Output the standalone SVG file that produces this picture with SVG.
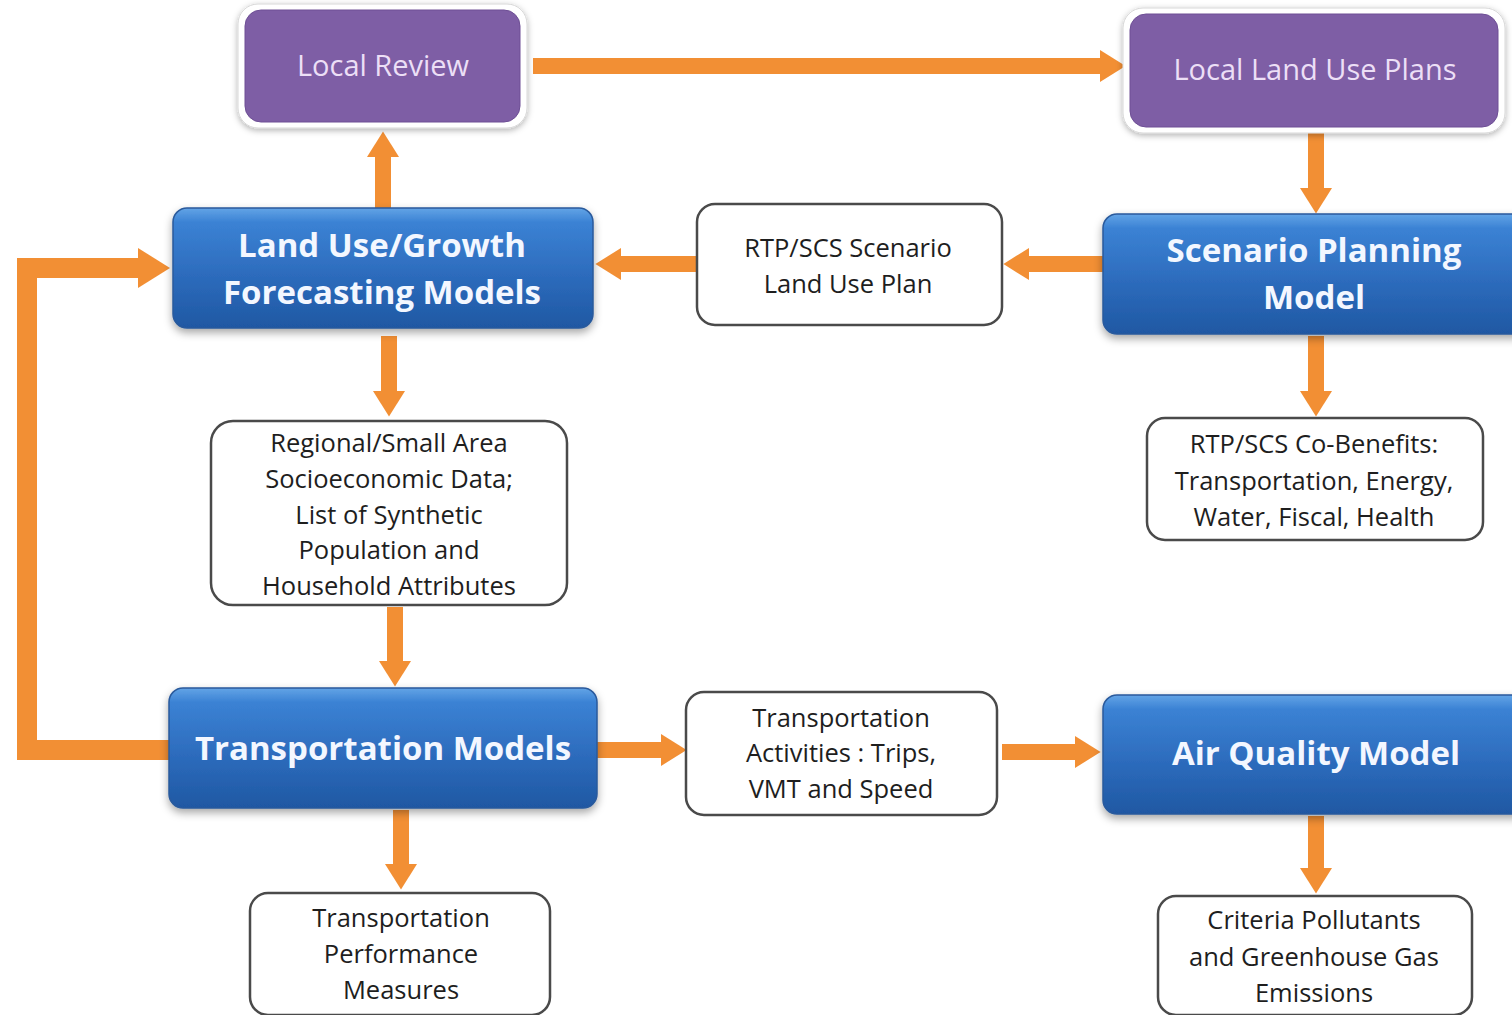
<svg xmlns="http://www.w3.org/2000/svg" width="1512" height="1015" viewBox="0 0 1512 1015">
<defs>
<linearGradient id="blue" x1="0" y1="0" x2="0" y2="1">
<stop offset="0" stop-color="#63a4e6"/>
<stop offset="0.12" stop-color="#3b82d4"/>
<stop offset="0.55" stop-color="#2d6cbd"/>
<stop offset="1" stop-color="#1f58a3"/>
</linearGradient>
<filter id="sh" x="-10%" y="-10%" width="120%" height="130%">
<feDropShadow dx="0" dy="4" stdDeviation="4" flood-color="#000" flood-opacity="0.35"/>
</filter>
<filter id="sh2" x="-10%" y="-10%" width="120%" height="130%">
<feDropShadow dx="0" dy="2" stdDeviation="3" flood-color="#000" flood-opacity="0.3"/>
</filter>
<marker id="ah" viewBox="0 0 1.6 2" markerWidth="1.6" markerHeight="2" refX="0" refY="1" markerUnits="strokeWidth" orient="auto">
<path d="M0,0 L1.6,1 L0,2 z" fill="#f28f34"/>
</marker>
<style>
.blue rect{fill:url(#blue);stroke:#2a5a9c;stroke-width:1.5;filter:url(#sh)}
.blue text{font-family:"Open Sans","Noto Sans",sans-serif;font-weight:bold;font-size:33px;fill:#f3f7ff;text-anchor:middle}
.purple .outer{fill:#fff;stroke:#d8d8d8;stroke-width:1;filter:url(#sh2)}
.purple .inner{fill:#7e5ea5;stroke:#6e4f95;stroke-width:1}
.purple text{font-family:"Open Sans","Noto Sans",sans-serif;font-size:29px;fill:#ecdff6;text-anchor:middle}
.white rect{fill:#fff;stroke:#4a4a4a;stroke-width:2.5}
.white text{font-family:"Open Sans","Noto Sans",sans-serif;font-size:25.5px;fill:#1e1e1e;text-anchor:middle}
.conn path{fill:none;stroke:#f28f34;stroke-width:16;marker-end:url(#ah)}
.conn .loop{stroke-width:20}
</style>
</defs>
<rect width="1512" height="1015" fill="#fff"/>
<g id="connectors" class="conn">
<path d="M533,66 H1100"/>
<path d="M1316,133 V188"/>
<path d="M1103,264 H1029"/>
<path d="M697,264 H621"/>
<path d="M383,208 V157"/>
<path d="M389,336 V391"/>
<path d="M395,607 V661"/>
<path d="M597,750 H661"/>
<path d="M1002,752 H1075"/>
<path d="M401,810 V864"/>
<path d="M1316,816 V868"/>
<path d="M1316,336 V391"/>
<path class="loop" d="M169,750 H27 V268 H138"/>
</g>
<g id="local-review" class="purple">
<rect class="outer" x="238" y="4" width="289" height="124" rx="20"/>
<rect class="inner" x="245" y="10" width="275" height="112" rx="16"/>
<text x="383" y="76">Local Review</text>
</g>
<g id="local-land-use-plans" class="purple">
<rect class="outer" x="1123" y="8" width="382" height="125" rx="20"/>
<rect class="inner" x="1130" y="14" width="368" height="113" rx="16"/>
<text x="1315" y="80">Local Land Use Plans</text>
</g>
<g id="land-use-growth" class="blue">
<rect x="173" y="208" width="420" height="120" rx="14"/>
<text x="382" y="257">Land Use/Growth</text>
<text x="382" y="304">Forecasting Models</text>
</g>
<g id="rtp-scenario" class="white">
<rect x="697" y="204" width="305" height="121" rx="18"/>
<text x="848" y="257">RTP/SCS Scenario</text>
<text x="848" y="293">Land Use Plan</text>
</g>
<g id="scenario-planning" class="blue">
<rect x="1103" y="214" width="430" height="120" rx="14"/>
<text x="1314" y="262">Scenario Planning</text>
<text x="1314" y="309">Model</text>
</g>
<g id="socioeconomic-data" class="white">
<rect x="211" y="421" width="356" height="184" rx="22"/>
<text x="389" y="452">Regional/Small Area</text>
<text x="389" y="488">Socioeconomic Data;</text>
<text x="389" y="524">List of Synthetic</text>
<text x="389" y="559">Population and</text>
<text x="389" y="595">Household Attributes</text>
</g>
<g id="co-benefits" class="white">
<rect x="1147" y="418" width="336" height="122" rx="18"/>
<text x="1314" y="453">RTP/SCS Co-Benefits:</text>
<text x="1314" y="490">Transportation, Energy,</text>
<text x="1314" y="526">Water, Fiscal, Health</text>
</g>
<g id="transportation-models" class="blue">
<rect x="169" y="688" width="428" height="120" rx="14"/>
<text x="383" y="760">Transportation Models</text>
</g>
<g id="transportation-activities" class="white">
<rect x="686" y="692" width="311" height="123" rx="18"/>
<text x="841" y="727">Transportation</text>
<text x="841" y="762">Activities : Trips,</text>
<text x="841" y="798">VMT and Speed</text>
</g>
<g id="air-quality-model" class="blue">
<rect x="1103" y="695" width="430" height="119" rx="14"/>
<text x="1316" y="765">Air Quality Model</text>
</g>
<g id="performance-measures" class="white">
<rect x="250" y="893" width="300" height="122" rx="18"/>
<text x="401" y="927">Transportation</text>
<text x="401" y="963">Performance</text>
<text x="401" y="999">Measures</text>
</g>
<g id="emissions" class="white">
<rect x="1158" y="896" width="314" height="119" rx="18"/>
<text x="1314" y="929">Criteria Pollutants</text>
<text x="1314" y="966">and Greenhouse Gas</text>
<text x="1314" y="1002">Emissions</text>
</g>
</svg>
